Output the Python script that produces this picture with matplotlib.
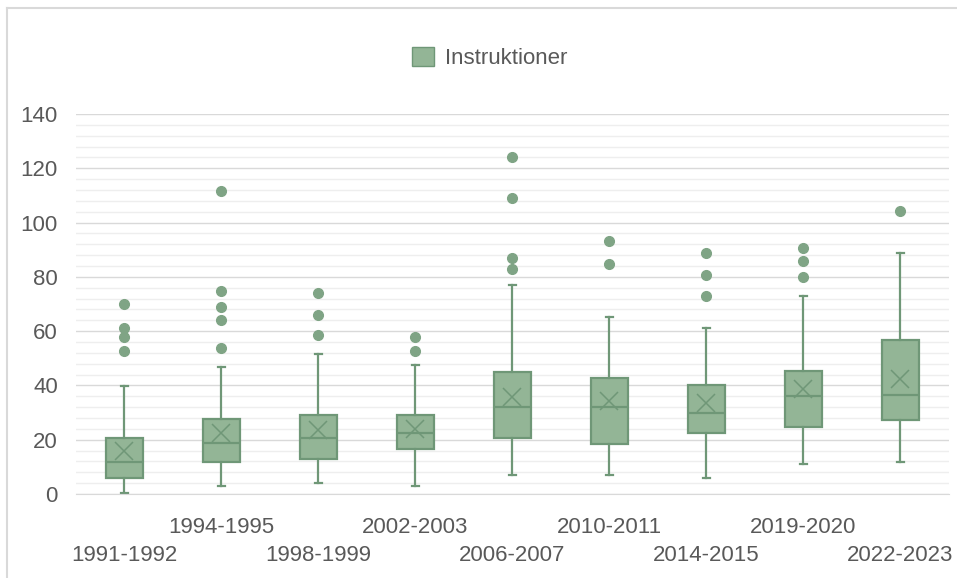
import matplotlib
matplotlib.use("Agg")
import matplotlib.pyplot as plt
from matplotlib.patches import Patch
from matplotlib.lines import Line2D
from matplotlib.ticker import MultipleLocator

# ---------- data ----------
periods = ["1991-1992", "1994-1995", "1998-1999", "2002-2003", "2006-2007",
           "2010-2011", "2014-2015", "2019-2020", "2022-2023"]
whisker_lo = [0.5, 2.9, 4.1, 2.9, 6.9, 6.9, 5.9, 10.9, 11.9]
q1 = [5.8, 11.9, 12.8, 16.7, 20.5, 18.3, 22.6, 24.7, 27.1]
median = [11.9, 18.8, 20.7, 22.3, 32.1, 32.1, 30.0, 36.0, 36.5]
q3 = [20.7, 27.7, 29.2, 29.2, 44.8, 42.9, 40.0, 45.4, 56.7]
whisker_hi = [39.9, 46.7, 51.7, 47.7, 76.9, 65.1, 61.0, 72.9, 88.7]
means = [15.7, 22.4, 23.4, 24.0, 35.9, 34.4, 33.4, 38.6, 42.3]
outliers = [
    [52.8, 57.7, 61.0, 70.1],
    [53.8, 64.0, 68.9, 74.9, 111.8],
    [58.6, 66.1, 73.9],
    [52.8, 57.7],
    [82.8, 86.9, 108.9, 124.3],
    [84.9, 93.1],
    [72.9, 80.8, 88.8],
    [79.8, 85.7, 90.8],
    [104.1],
]

FILL = "#93b596"
EDGE = "#6f9777"
TEXT = "#595959"

plt.rcParams["font.family"] = ["Liberation Sans", "DejaVu Sans"]

stats = []
for i, p in enumerate(periods):
    stats.append({
        "label": p, "whislo": whisker_lo[i], "q1": q1[i], "med": median[i],
        "q3": q3[i], "whishi": whisker_hi[i], "mean": means[i],
        "fliers": outliers[i],
    })

fig = plt.figure(figsize=(9.57, 5.78), dpi=100)
ax = fig.add_axes([0.0794, 0.1453, 0.9122, 0.6575])

positions = list(range(len(periods)))
ax.bxp(
    stats, positions=positions, widths=0.39, patch_artist=True,
    showmeans=True, meanline=False, capwidths=0.08,
    boxprops=dict(facecolor=FILL, edgecolor=EDGE, linewidth=1.6),
    medianprops=dict(color=EDGE, linewidth=1.6),
    whiskerprops=dict(color=EDGE, linewidth=1.6),
    capprops=dict(color=EDGE, linewidth=1.6),
    meanprops=dict(marker="x", markersize=13, markeredgecolor=EDGE,
                   markeredgewidth=1.1),
    flierprops=dict(marker="o", markersize=7, markerfacecolor="#7fa485",
                    markeredgecolor="#7fa485"),
)

ax.set_xlim(-0.5, len(periods) - 0.5)
ax.set_ylim(0, 140)
ax.yaxis.set_major_locator(MultipleLocator(20))
ax.yaxis.set_minor_locator(MultipleLocator(4))
ax.grid(axis="y", which="major", color="#d9d9d9", linewidth=1.0, zorder=0)
ax.grid(axis="y", which="minor", color="#eeeeee", linewidth=1.0, zorder=0)
ax.set_axisbelow(True)

for s in ["left", "right", "top"]:
    ax.spines[s].set_visible(False)
ax.spines["bottom"].set_color("#d9d9d9")
ax.tick_params(axis="y", which="both", length=0, pad=13, labelsize=16,
               labelcolor=TEXT)
ax.tick_params(axis="x", which="both", length=0)
ax.set_xticks(positions)
ax.set_xticklabels([])

# staggered category labels
for i, p in enumerate(periods):
    y = -12.3 if i % 2 else -22.8
    ax.text(i, y, p, ha="center", va="center", fontsize=16, color=TEXT,
            clip_on=False)

# legend
fig.legend(handles=[Patch(facecolor=FILL, edgecolor=EDGE, label="Instruktioner")],
           loc="center", bbox_to_anchor=(0.5115, 0.900), frameon=False,
           fontsize=16, labelcolor=TEXT, handlelength=1.0, handleheight=1.0,
           handletextpad=0.5)

# outer chart frame (only top and left edges visible in the crop)
fig.add_artist(Line2D([7 / 957, 1.0], [1 - 8 / 578, 1 - 8 / 578],
                      transform=fig.transFigure, color="#d9d9d9", linewidth=1.5))
fig.add_artist(Line2D([7 / 957, 7 / 957], [0.0, 1 - 8 / 578],
                      transform=fig.transFigure, color="#d9d9d9", linewidth=1.5))

fig.savefig("out.png", dpi=100)
